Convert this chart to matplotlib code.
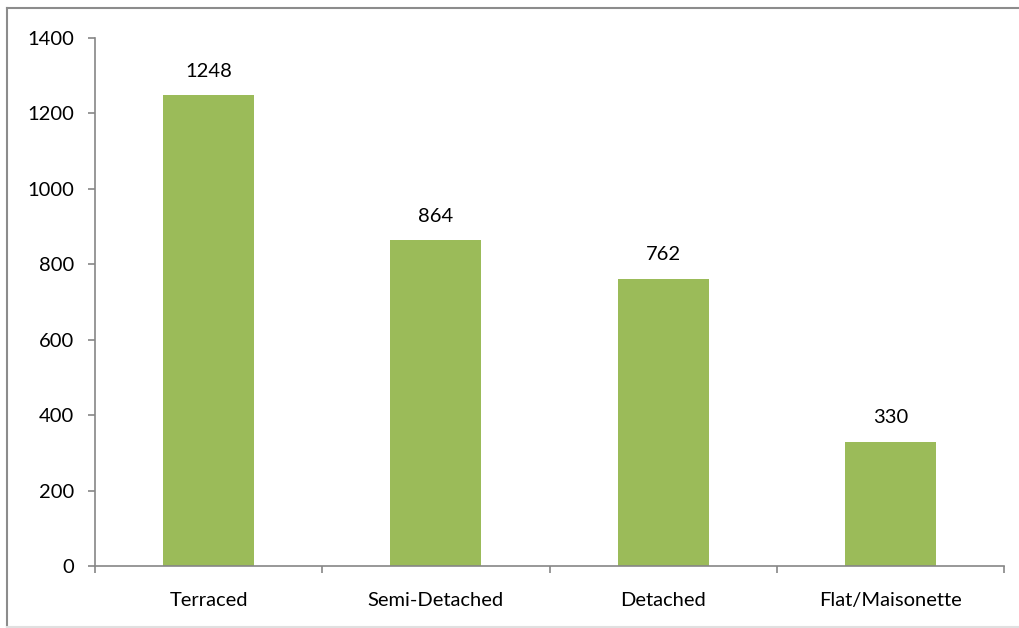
import numpy as np
import matplotlib.pyplot as plt
from matplotlib.lines import Line2D

plt.rcParams['font.family'] = ['Lato', 'DejaVu Sans']

categories = ['Terraced', 'Semi-Detached', 'Detached', 'Flat/Maisonette']
counts = [1248, 864, 762, 330]

fig = plt.figure(figsize=(10.2, 6.28), dpi=100)
ax = fig.add_axes([95 / 1020, 1 - 566 / 628, (1004 - 95) / 1020, (566 - 38) / 628])

x = np.arange(len(categories))
ax.bar(x, counts, width=0.4, color='#9BBB59', zorder=2)
for xi, v in zip(x, counts):
    ax.annotate(str(v), (xi, v), xytext=(0, 11), textcoords='offset points',
                ha='center', va='bottom', fontsize=14.5, color='black')

ax.set_xlim(-0.5, len(categories) - 0.5)
ax.set_ylim(0, 1400)
ax.set_yticks(np.arange(0, 1401, 200))
ax.set_xticks(x)
ax.set_xticklabels(categories)
ax.set_xticks(np.arange(-0.5, len(categories)), minor=True)
ax.tick_params(axis='x', which='major', length=0, pad=19, labelsize=14.5)
ax.tick_params(axis='x', which='minor', length=5, color='#868686', width=1.2)
ax.tick_params(axis='y', length=5, color='#868686', width=1.2, pad=10, labelsize=14.5)

for side in ['top', 'right']:
    ax.spines[side].set_visible(False)
for side in ['left', 'bottom']:
    ax.spines[side].set_color('#868686')
    ax.spines[side].set_linewidth(1.2)

# chart area border (runs off the right edge)
W, H = 1020, 628
fig.add_artist(Line2D([7 / W, 7 / W], [1 - 8 / H, 1 - 627 / H], transform=fig.transFigure,
                      color='#8c8c8c', lw=1.5))
fig.add_artist(Line2D([7 / W, 1], [1 - 8 / H, 1 - 8 / H], transform=fig.transFigure,
                      color='#8c8c8c', lw=1.5))
fig.add_artist(Line2D([7 / W, 1], [1 - 627 / H, 1 - 627 / H], transform=fig.transFigure,
                      color='#e0e0e0', lw=1.5))

fig.savefig('out.png', dpi=100)
